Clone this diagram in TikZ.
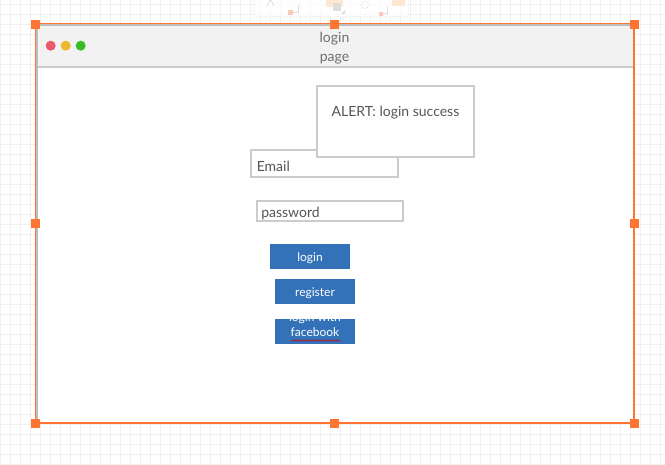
\documentclass[tikz,border=0pt]{standalone}
\usepackage{fontspec}
\setmainfont{Lato}
\usetikzlibrary{decorations.pathmorphing}
\definecolor{gridc}{RGB}{240,240,240}
\definecolor{selorange}{RGB}{255,115,51}
\definecolor{boxgray}{RGB}{204,204,204}
\definecolor{wingray}{RGB}{190,190,190}
\definecolor{barfill}{RGB}{242,242,242}
\definecolor{btnblue}{RGB}{51,114,184}
\definecolor{txtgray}{RGB}{85,85,85}
\definecolor{dotred}{RGB}{234,90,108}
\definecolor{dotyellow}{RGB}{238,183,44}
\definecolor{dotgreen}{RGB}{58,187,40}
\definecolor{peach}{RGB}{253,232,210}
\definecolor{faintorange}{RGB}{251,200,180}
\definecolor{faintgray}{RGB}{222,222,222}
\begin{document}
\begin{tikzpicture}[x=1pt,y=-1pt,
  field/.style={draw=boxgray, line width=2pt, fill=white, font=\fontsize{14}{17}\selectfont, text=txtgray, inner ysep=0pt, align=left},
  btn/.style={fill=btnblue, text=white, font=\fontsize{12}{15}\selectfont, minimum width=80pt, minimum height=25pt, inner sep=0pt, text height=11pt, text depth=1pt},
  handle/.style={fill=selorange, minimum size=9pt, inner sep=0pt},
  dot/.style={circle, minimum size=10pt, inner sep=0pt},
  label/.style={text=txtgray, inner sep=0pt}]
\useasboundingbox (0,0) rectangle (665,464);
\fill[white] (0,0) rectangle (665,464);
% grid
\foreach \x in {0.5,10.5,...,660.5} \draw[gridc, line width=0.7pt] (\x,0) -- (\x,464);
\foreach \y in {4,14,...,464} \draw[gridc, line width=0.7pt] (0,\y) -- (665,\y);
% faint toolbar
\fill[white, opacity=0.7] (254,-1) rectangle (408,16);
\draw[gridc!70!white] (254,-1) rectangle (408,16);
\draw[faintgray, line width=0.8pt] (267,6) -- (270.5,-1) -- (274,6);
\fill[faintorange] (288,10) rectangle (293,15);
\draw[faintgray] (293,12) -- (298,12) -- (298,5);
\fill[peach] (326,-1) rectangle (343,7);
\fill[faintgray] (333,3) rectangle (341,11);
\fill[faintgray] (345,10) -- (345,14) -- (341,14) -- cycle;
\draw[faintgray] (365,5) circle (3.5);
\fill[faintorange] (379,12) rectangle (383,16);
\draw[faintgray] (383,13) -- (387,13) -- (387,6);
\fill[peach] (392,-1) rectangle (405,6);
% window
\node[draw=wingray, line width=2pt, fill=white, minimum width=597pt, minimum height=398pt, inner sep=0pt] (win) at (335,223.5) {};
\fill[barfill] (37.5,25.5) rectangle (632.5,65.7);
\draw[boxgray, line width=2pt] (37.5,66.7) -- (632.5,66.7);
\node[dot, fill=dotred] (dr) at (50.7,45.7) {};
\node[dot, fill=dotyellow] (dy) at (65.7,45.7) {};
\node[dot, fill=dotgreen] (dg) at (80.7,45.7) {};
\node[label, align=center, font=\fontsize{14}{18.3}\selectfont, text=txtgray!85!white] (title) at (334.5,48) {login\\page};
% fields
\node[field, text width=136pt, inner xsep=5.5pt, minimum height=26.5pt, text height=16pt, text depth=0pt] (email) at (324.75,163.25) {Email};
\node[draw=boxgray, line width=2pt, fill=white, minimum width=156.5pt, minimum height=71pt, inner sep=0pt] (alert) at (395.25,121.5) {};
\node[label, font=\fontsize{14}{17}\selectfont] (alerttxt) at (395.5,113) {ALERT: login success};
\node[field, text width=137pt, inner xsep=4.25pt, minimum height=20pt, text height=15.5pt, text depth=2pt] (pass) at (329.75,211) {password};
% buttons
\node[btn] (login) at (310,256.5) {login};
\node[btn] (register) at (315,291.5) {register};
\node[btn] (fb) at (315,331.5) {};
\begin{scope}
\clip (fb.south west) rectangle (fb.north east);
\node[text=white, inner sep=0pt, align=center, font=\fontsize{12}{15}\selectfont] (fbtxt) at (315,325) {login with\\facebook};
\end{scope}
\draw[red!85!black, line width=0.5pt, decorate, decoration={snake, amplitude=0.7pt, segment length=3pt}] (291,340.5) -- (340,340.5);
% selection
\draw[selorange, line width=1.2pt] (35.5,23.8) rectangle (634,423);
\foreach \p/\n in {{(35.5,24)}/h1,{(334,24)}/h2,{(634,24)}/h3,{(35.5,223)}/h4,{(634,223)}/h5,{(35.5,423)}/h6,{(334,423)}/h7,{(634,423)}/h8}
  \node[handle] (\n) at \p {};
\end{tikzpicture}
\end{document}
